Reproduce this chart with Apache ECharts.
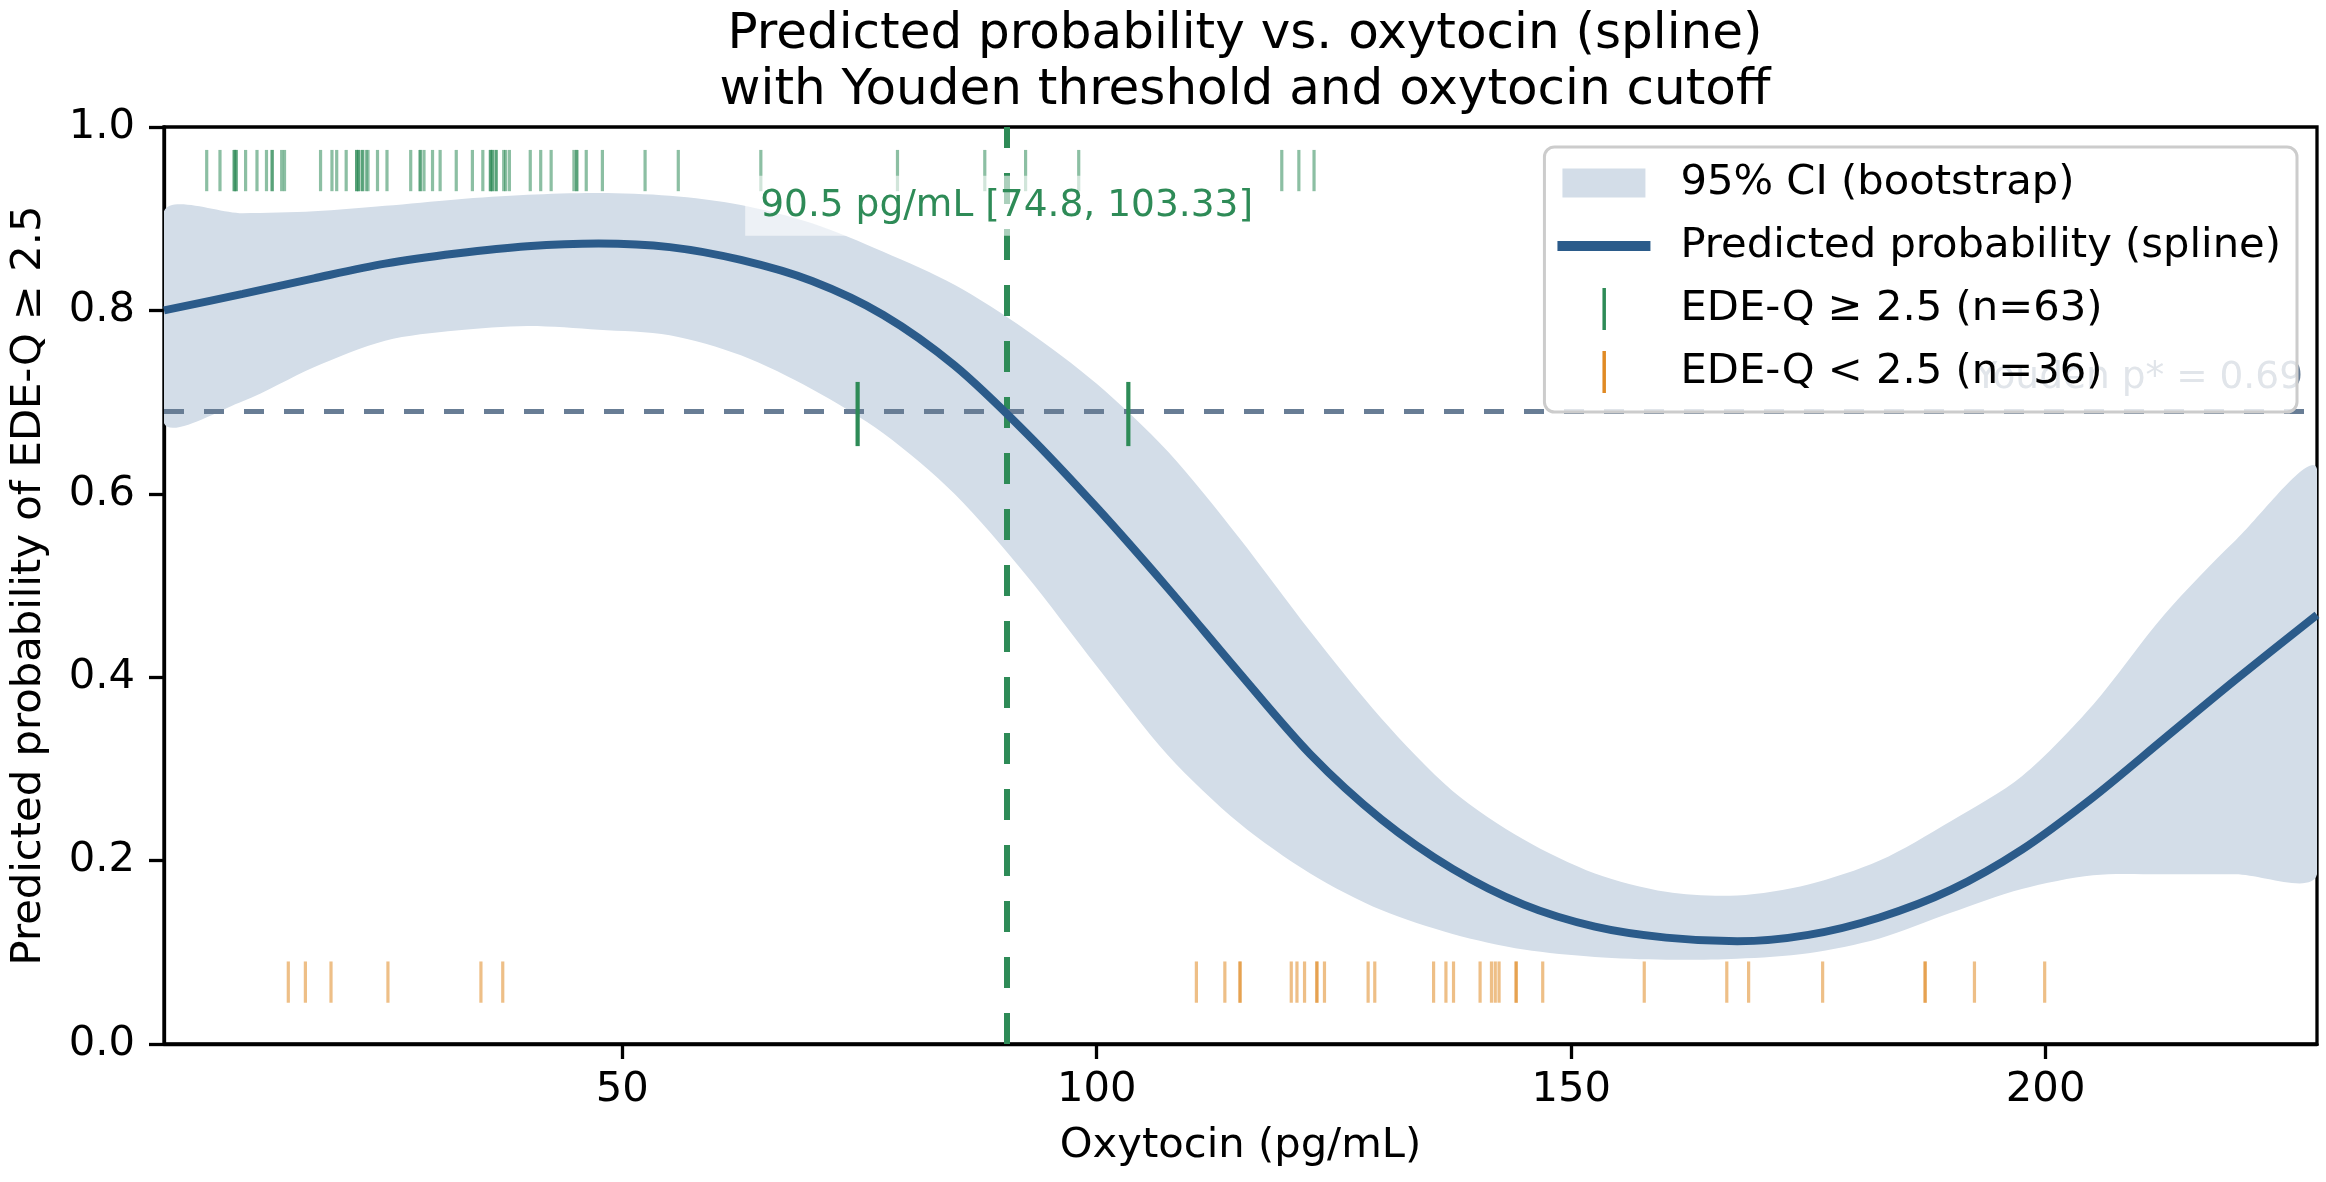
<!DOCTYPE html>
<html>
<head>
<meta charset="utf-8">
<title>Predicted probability vs. oxytocin</title>
<script src="https://cdn.jsdelivr.net/npm/echarts@6/dist/echarts.min.js"></script>
<style>
  html, body { margin: 0; padding: 0; background: #fff; }
  #chart { width: 2326px; height: 1182px; }
</style>
</head>
<body>
<div id="chart"></div>
<script>
var gridX = [1.7, 10, 17.5, 25, 32.5, 40, 47.5, 55, 62.5, 70, 77.5, 85, 92.5, 100, 107.5, 115, 122.5, 130, 137.5, 145, 152.5, 160, 167.5, 175, 182.5, 190, 197.5, 205, 212.5, 220, 228.6];

// predicted probability (spline)
var curveY = [0.800, 0.818, 0.835, 0.851, 0.862, 0.870, 0.873, 0.869, 0.855, 0.832, 0.795, 0.740, 0.667, 0.585, 0.497, 0.405, 0.316, 0.245, 0.191, 0.152, 0.128, 0.116, 0.112, 0.119, 0.138, 0.168, 0.212, 0.269, 0.333, 0.397, 0.468];

// 95% bootstrap band
var upperY = [0.908, 0.906, 0.908, 0.914, 0.921, 0.926, 0.928, 0.925, 0.915, 0.895, 0.864, 0.828, 0.779, 0.720, 0.646, 0.552, 0.450, 0.355, 0.276, 0.223, 0.186, 0.166, 0.162, 0.174, 0.200, 0.243, 0.292, 0.370, 0.468, 0.549, 0.627];
var lowerY = [0.677, 0.701, 0.738, 0.767, 0.778, 0.783, 0.779, 0.773, 0.751, 0.714, 0.666, 0.600, 0.512, 0.412, 0.315, 0.241, 0.186, 0.146, 0.120, 0.103, 0.095, 0.092, 0.093, 0.099, 0.115, 0.143, 0.169, 0.184, 0.185, 0.185, 0.185];

// rug: EDE-Q >= 2.5 (63) and < 2.5 (36)
var rugHigh = [6.2, 7.6, 9.1, 9.1, 9.3, 9.3, 10.3, 11.5, 12.5, 13.1, 13.1, 14.1, 14.4,
  18.2, 19.4, 19.9, 20.9, 22.0, 22.0, 22.2, 22.2, 22.6, 22.6, 23.0, 23.2, 24.2, 25.2,
  27.7, 28.7, 28.7, 29.1, 30.0, 30.8, 32.5, 34.2, 35.3, 36.1, 36.1, 36.3, 36.3, 36.7, 36.7, 37.5, 37.7, 38.1,
  40.3, 41.4, 42.5, 44.9, 45.2, 45.2, 46.2, 47.9, 52.4, 55.9, 64.6,
  79.0, 88.2, 92.5, 98.1, 119.5, 121.3, 122.9];
var rugLow = [14.8, 16.6, 19.3, 25.3, 35.1, 37.4,
  110.5, 113.5, 115.1, 115.1, 120.5, 121.1, 121.9, 123.2, 123.2, 124.0, 128.6, 129.3,
  135.5, 136.8, 137.6, 140.4, 141.6, 142.0, 142.4, 144.2, 144.2, 147.0, 157.7,
  166.4, 168.7, 176.5, 187.3, 187.3, 192.5, 199.9];

// cutoff and its CI, Youden threshold
var cutoff = 90.5;
var cutoffCI = [74.8, 103.33];
var youden = 0.687;
var xTicks = [50, 100, 150, 200];

var FONT = 'DejaVu Sans';
var BLUE = '#2b5b8a';
var BAND = '#d3dde8';
var GREEN = '#2e8b57';
var ORANGE = '#e08a24';
var SLATE = '#687d95';

var chart = echarts.init(document.getElementById('chart'));

function rugItem(lo, hi, color) {
    return function (params, api) {
        var x = api.value(0);
        var a = api.coord([x, lo]);
        var b = api.coord([x, hi]);
        return {
            type: 'line',
            shape: { x1: a[0], y1: a[1], x2: b[0], y2: b[1] },
            style: { stroke: color, lineWidth: 3.2, opacity: 0.55 }
        };
    };
}

var option = {
    animation: false,
    title: {
        text: 'Predicted probability vs. oxytocin (spline)\nwith Youden threshold and oxytocin cutoff',
        left: 1240,
        top: 2,
        textAlign: 'center',
        textStyle: { fontFamily: FONT, fontSize: 50, fontWeight: 'normal', color: '#000', lineHeight: 56 }
    },
    grid: {
        left: 163, right: 9, top: 127, bottom: 138,
        show: true, borderColor: '#000', borderWidth: 3.3, backgroundColor: 'transparent'
    },
    legend: {
        z: 10,
        orient: 'vertical', align: 'left',
        right: 29, top: 147,
        itemWidth: 118, itemHeight: 42, itemGap: 21,
        padding: [15, 16, 19, 13],
        backgroundColor: 'rgba(255,255,255,0.8)',
        borderColor: '#cccccc', borderWidth: 3, borderRadius: 10,
        textStyle: { fontFamily: FONT, fontSize: 41.7, color: '#000' },
        data: [
            { name: '95% CI (bootstrap)', icon: 'path://M0,0M118,42M5,6.5L88,6.5L88,35.5L5,35.5Z', itemStyle: { color: BAND, borderWidth: 0 } },
            { name: 'Predicted probability (spline)', icon: 'path://M0,0M118,42M0,16L93,16L93,26L0,26Z', itemStyle: { color: BLUE, borderWidth: 0 } },
            { name: 'EDE-Q ≥ 2.5 (n=63)', icon: 'path://M0,0M118,42M45,0L48.5,0L48.5,42L45,42Z', itemStyle: { color: GREEN, borderWidth: 0 } },
            { name: 'EDE-Q < 2.5 (n=36)', icon: 'path://M0,0M118,42M45,0L48.5,0L48.5,42L45,42Z', itemStyle: { color: ORANGE, borderWidth: 0 } }
        ]
    },
    xAxis: {
        type: 'value', min: 1.7, max: 228.6,
        name: 'Oxytocin (pg/mL)', nameLocation: 'middle', nameGap: 81,
        nameTextStyle: { fontFamily: FONT, fontSize: 41.7, color: '#000' },
        axisLine: { show: true, onZero: false, lineStyle: { color: '#000', width: 3.3 } },
        axisTick: { show: true, length: 15, customValues: xTicks, lineStyle: { color: '#000', width: 3.3 } },
        axisLabel: { fontFamily: FONT, fontSize: 41.7, color: '#000', margin: 25, customValues: xTicks },
        splitLine: { show: false }
    },
    yAxis: {
        type: 'value', min: 0, max: 1, interval: 0.2,
        name: 'Predicted probability of EDE-Q ≥ 2.5', nameLocation: 'middle', nameGap: 114, nameRotate: 90,
        nameTextStyle: { fontFamily: FONT, fontSize: 41.7, color: '#000' },
        axisLine: { show: true, lineStyle: { color: '#000', width: 3.3 } },
        axisTick: { show: true, length: 15, lineStyle: { color: '#000', width: 3.3 } },
        axisLabel: {
            fontFamily: FONT, fontSize: 41.7, color: '#000', margin: 29,
            formatter: function (v) { return v.toFixed(1); }
        },
        splitLine: { show: false }
    },
    series: [
        {
            // CI band as one polygon: upper edge left->right, lower edge back
            type: 'custom', name: '95% CI (bootstrap)', z: 1, clip: true, silent: true,
            itemStyle: { color: BAND },
            data: [[gridX[0], upperY[0]]],
            renderItem: function (params, api) {
                var cs = params.coordSys;
                var pts = [];
                for (var i = 0; i < gridX.length; i++) pts.push(api.coord([gridX[i], upperY[i]]));
                for (var j = gridX.length - 1; j >= 0; j--) pts.push(api.coord([gridX[j], lowerY[j]]));
                return {
                    type: 'polygon',
                    shape: {
                        points: pts, smooth: 0.3,
                        smoothConstraint: [[cs.x, cs.y], [cs.x + cs.width, cs.y + cs.height]]
                    },
                    style: { fill: BAND, stroke: null }
                };
            }
        },
        {
            // cutoff CI ticks + reference lines
            type: 'custom', name: 'cutoff', z: 2, silent: true,
            data: cutoffCI.map(function (x) { return [x, youden]; }),
            renderItem: function (params, api) {
                var x = api.value(0);
                var a = api.coord([x, youden - 0.035]);
                var b = api.coord([x, youden + 0.035]);
                return {
                    type: 'line',
                    shape: { x1: a[0], y1: a[1], x2: b[0], y2: b[1] },
                    style: { stroke: GREEN, lineWidth: 4.2 }
                };
            },
            markLine: {
                z: 2, silent: true, symbol: ['none', 'none'], animation: false,
                data: [
                    { xAxis: cutoff, lineStyle: { color: GREEN, width: 6, type: [31, 25] }, label: { show: false } },
                    {
                        yAxis: youden, lineStyle: { color: SLATE, width: 5, type: [20, 20] },
                        label: {
                            show: true, position: 'insideEndTop', distance: 14,
                            formatter: 'Youden p* = 0.69',
                            fontFamily: FONT, fontSize: 37.5, color: SLATE
                        }
                    }
                ]
            }
        },
        {
            type: 'line', name: 'Predicted probability (spline)', z: 3,
            data: gridX.map(function (x, i) { return [x, curveY[i]]; }),
            smooth: 0.3, showSymbol: false, symbol: 'none',
            lineStyle: { color: BLUE, width: 8 }, itemStyle: { color: BLUE }
        },
        {
            type: 'custom', name: 'EDE-Q ≥ 2.5 (n=63)', z: 3, silent: true,
            itemStyle: { color: GREEN },
            data: rugHigh.map(function (x) { return [x, 0.95]; }),
            renderItem: rugItem(0.93, 0.975, GREEN)
        },
        {
            type: 'custom', name: 'EDE-Q < 2.5 (n=36)', z: 3, silent: true,
            itemStyle: { color: ORANGE },
            data: rugLow.map(function (x) { return [x, 0.07]; }),
            renderItem: rugItem(0.045, 0.09, ORANGE)
        },
        {
            // annotation of the cutoff, centred on it with a light box
            type: 'custom', name: 'annotation', z: 6, silent: true,
            data: [[cutoff, 0.914]],
            renderItem: function (params, api) {
                var p = api.coord([api.value(0), api.value(1)]);
                return {
                    type: 'text', x: p[0], y: p[1],
                    style: {
                        text: cutoff + ' pg/mL [' + cutoffCI[0] + ', ' + cutoffCI[1] + ']',
                        fill: GREEN, fontFamily: FONT, fontSize: 37.5,
                        align: 'center', verticalAlign: 'middle',
                        backgroundColor: 'rgba(255,255,255,0.6)', padding: [11, 15]
                    }
                };
            }
        }
    ]
};

chart.setOption(option);
window.addEventListener('resize', function () { chart.resize(); });
</script>
</body>
</html>
